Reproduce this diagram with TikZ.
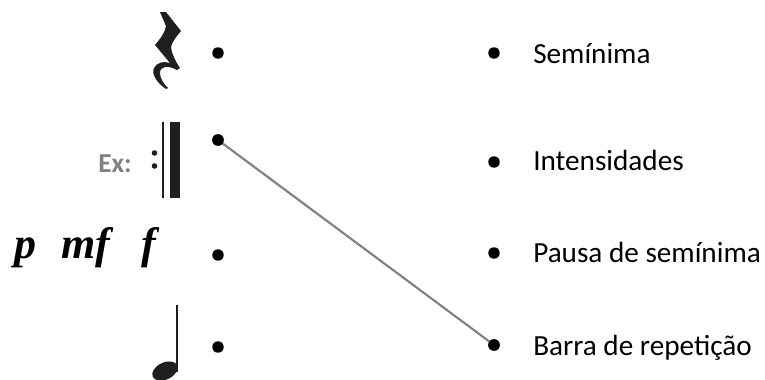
\documentclass[tikz,border=0pt]{standalone}
\usepackage{fontspec}
\setmainfont{Carlito}
\newfontfamily\dynfont{Liberation Serif}
\begin{document}
\begin{tikzpicture}[x=0.75pt,y=-0.75pt,
  dot/.style={circle,fill=black,inner sep=0pt,minimum size=8.6pt},
  lbl/.style={anchor=base west,inner sep=0pt,font=\fontsize{21.9pt}{26pt}\selectfont},
  dyn/.style={anchor=base,inner sep=0pt,font=\fontsize{33pt}{36pt}\dynfont\bfseries\itshape},
  link/.style={draw=black!50,line width=1.6pt},
  sym/.style={fill=black!88}]
\useasboundingbox (0,0) rectangle (765,379);
% left dots
\node[dot] (l1) at (218,53) {};
\node[dot] (l2) at (218,140) {};
\node[dot] (l3) at (218,255) {};
\node[dot] (l4) at (218,347) {};
% right dots
\node[dot] (r1) at (494,53) {};
\node[dot] (r2) at (494,162) {};
\node[dot] (r3) at (494,253) {};
\node[dot] (r4) at (494,345) {};
% labels
\node[lbl] (t1) at (533,63) {Semínima};
\node[lbl] (t2) at (533,170) {Intensidades};
\node[lbl] (t3) at (533,262) {Pausa de semínima};
\node[lbl] (t4) at (533,355) {Barra de repetição};
% connector
\draw[link] (l2.center) -- (r4.center);
\fill (l2) circle (4.3pt);
\fill (r4) circle (4.3pt);
% quarter rest
\fill[sym] (160,12) -- (166,12) -- (181,31) .. controls (176,37) and (172,42) .. (171,47)
  .. controls (172,55) and (176,62) .. (180,68) -- (177,70)
  .. controls (168,65) and (160,66) .. (160,73) .. controls (160,79) and (164,84) .. (168,88) -- (166,89)
  .. controls (157,83) and (151,74) .. (154,68) .. controls (157,62) and (164,61) .. (170,63)
  -- (155,45) .. controls (160,39) and (165,33) .. (166,26) -- cycle;
% repeat barline
\node[anchor=base west,inner sep=0pt,text=black!50,font=\fontsize{20.5pt}{24pt}\selectfont\bfseries] (ex) at (98,172) {Ex:};
\fill[sym] (161.8,122) rectangle (164.2,198);
\fill[sym] (170,122) rectangle (180,198);
\fill[sym] (154.5,153) circle (2.1pt);
\fill[sym] (154.5,166) circle (2.1pt);
% dynamics
\node[dyn] (p) at (25,258) {p};
\node[dyn] (mf) at (86,258) {mf};
\node[dyn] (f) at (149,258) {f};
% quarter note
\fill[sym] (175.8,305) rectangle (178,372);
\fill[sym, rotate around={25:(165,371)}] (165,371) ellipse (13.5 and 8.5);
\end{tikzpicture}
\end{document}
